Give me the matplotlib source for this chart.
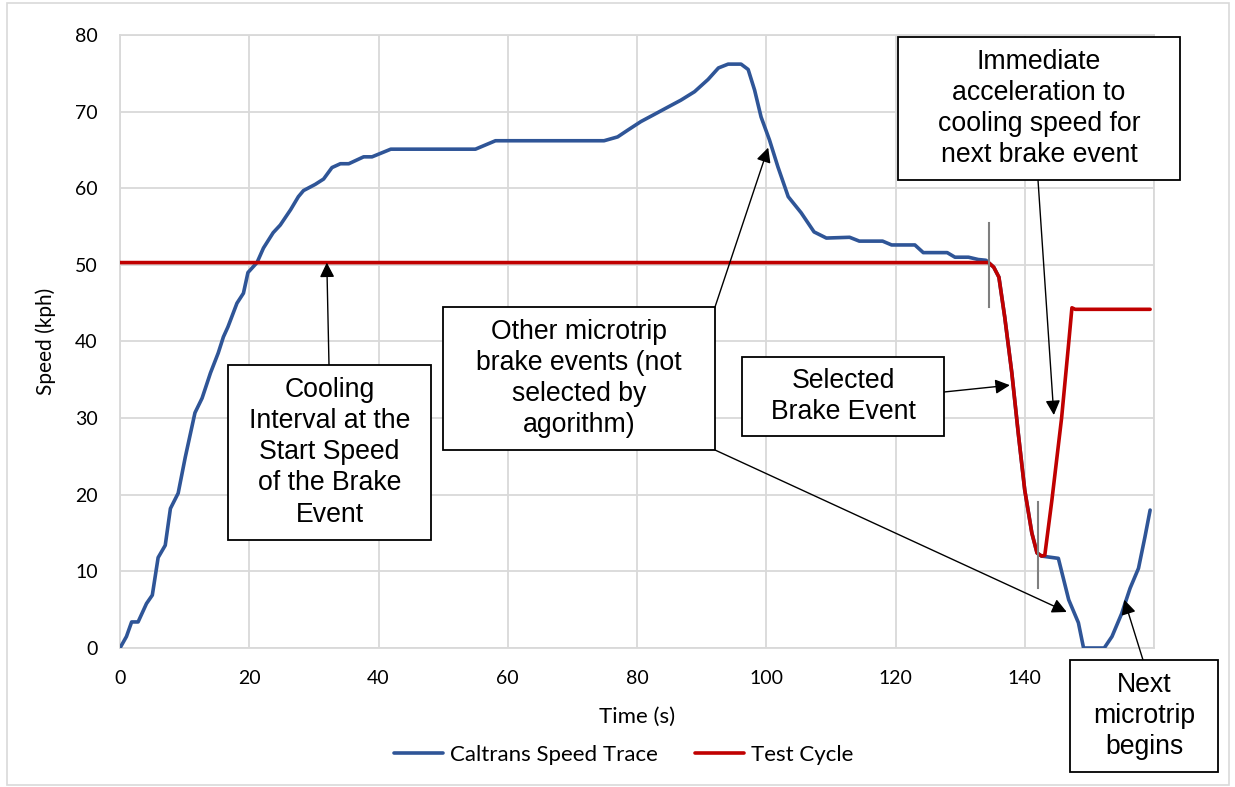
import matplotlib
matplotlib.use("Agg")
import matplotlib.pyplot as plt
from matplotlib.patches import Rectangle

# Caltrans speed trace [s], [kph]
blue_t = [0, 1, 1.8, 2.8, 4.1, 5, 5.9, 7, 7.8, 9, 10.1, 11.6, 12.7, 14, 15.2, 16,
          16.7, 18.1, 19.1, 19.8, 21.2, 22.2, 23.7, 24.8, 26.4, 27.6, 28.4, 30.2,
          31.5, 32.8, 34.1, 35.4, 37.7, 39, 41.9, 55, 58.1, 74.9, 77, 78.6, 80.6,
          82.6, 84.8, 86.8, 88.9, 91, 92.6, 94.1, 96.1, 97.2, 98.2, 99.2, 100.5,
          101.8, 103.4, 105.4, 107.4, 109.3, 112.9, 114.4, 118, 119.4, 123, 124.3,
          128, 129.2, 131.3, 132.8, 134, 135.2, 136, 136.9, 138, 139, 140, 141.1,
          141.9, 142.6, 145.2, 146.8, 148.3, 149.1, 152.3, 153.5, 155, 156.3,
          157.6, 158.6, 159.4]
blue_v = [0, 1.5, 3.4, 3.4, 5.8, 6.9, 11.8, 13.4, 18.2, 20.2, 24.9, 30.7, 32.6,
          35.9, 38.5, 40.6, 41.9, 45, 46.3, 49, 50.3, 52.2, 54.2, 55.2, 57.2, 58.9,
          59.7, 60.5, 61.2, 62.7, 63.2, 63.2, 64.1, 64.1, 65.1, 65.1, 66.2, 66.2,
          66.7, 67.6, 68.7, 69.6, 70.6, 71.5, 72.6, 74.2, 75.7, 76.2, 76.2, 75.5,
          72.8, 69.3, 66.3, 62.8, 58.9, 56.8, 54.3, 53.5, 53.6, 53.1, 53.1, 52.6,
          52.6, 51.6, 51.6, 51.0, 51.0, 50.7, 50.6, 49.7, 48.4, 43.2, 35.9, 28,
          20.6, 15, 12.4, 12, 11.7, 6.3, 3.3, 0, 0, 1.5, 4.5, 7.8, 10.4, 14.5, 18]

# Test cycle
red_t = [0, 134.4, 135.2, 136, 136.9, 138, 139, 140, 141.1, 141.9, 142.6, 143.1,
         144.2, 145.7, 146.8, 147.3, 147.8, 159.4]
red_v = [50.3, 50.3, 49.7, 48.4, 43.2, 35.9, 28, 20.6, 15, 12.4, 12, 12.1,
         19.3, 30, 39.8, 44.4, 44.2, 44.2]

# grey markers at start / end of the selected brake event
marker_t = [134.4, 142]
marker_lo = [44.5, 7.8]
marker_hi = [55.5, 19]

x_ticks = [0, 20, 40, 60, 80, 100, 120, 140, 160]
# the 160 label sits under the "Next microtrip" box in the original
x_labels = ["0", "20", "40", "60", "80", "100", "120", "140", ""]

W, H = 1235, 787
fig = plt.figure(figsize=(W / 100, H / 100), dpi=100)
ax = fig.add_axes([120 / W, 1 - 648 / H, (1154 - 120) / W, (648 - 35) / H])

grid_c = "#d9d9d9"
ax.plot(blue_t, blue_v, color="#2f5597", lw=2.6, solid_joinstyle="round",
        solid_capstyle="round", label="Caltrans Speed Trace", zorder=3)
ax.plot(red_t, red_v, color="#c00000", lw=2.6, solid_joinstyle="round",
        solid_capstyle="round", label="Test Cycle", zorder=4)
for t, lo, hi in zip(marker_t, marker_lo, marker_hi):
    ax.plot([t, t], [lo, hi], color="#7f7f7f", lw=1.5, zorder=5)

ax.set_xlim(0, 160)
ax.set_ylim(0, 80)
ax.set_xticks(x_ticks)
ax.set_xticklabels(x_labels)
ax.set_yticks(range(0, 81, 10))
ax.grid(True, color=grid_c, lw=1.3)
ax.set_axisbelow(True)
for s in ax.spines.values():
    s.set_color(grid_c)
    s.set_linewidth(1.3)
ax.tick_params(length=0, labelsize=14, pad=16)
for lab in ax.get_xticklabels() + ax.get_yticklabels():
    lab.set_family("Lato")

ax.set_xlabel("Time (s)", fontsize=16, family="Lato", labelpad=14)
ax.set_ylabel("Speed (kph)", fontsize=15, family="Lato", labelpad=14)

leg = ax.legend(loc="upper center", bbox_to_anchor=(0.487, -0.125), ncol=2,
                frameon=False, prop={"family": "Lato", "size": 16},
                handlelength=2.2, handletextpad=0.3, columnspacing=1.7)

# chart area border
fig.patches.append(Rectangle((7 / W, 2 / H), (1229 - 7) / W, (784 - 2) / H,
                             transform=fig.transFigure, fill=False,
                             edgecolor=grid_c, lw=1.2))


def callout(x0, y0, x1, y1, text):
    fig.patches.append(Rectangle((x0 / W, 1 - y1 / H), (x1 - x0) / W, (y1 - y0) / H,
                                 transform=fig.transFigure, facecolor="white",
                                 edgecolor="black", lw=1.3, zorder=10))
    fig.text((x0 + x1) / 2 / W, 1 - (y0 + y1) / 2 / H, text, ha="center",
             va="center", fontsize=19.2, family="Liberation Sans",
             linespacing=1.25, zorder=11)


def arrow(tip, start):
    ax.annotate("", xy=tip, xycoords="data",
                xytext=(start[0], H - start[1]), textcoords="figure pixels",
                arrowprops=dict(arrowstyle="-|>", color="black", lw=1.0,
                                mutation_scale=22, shrinkA=0, shrinkB=0),
                zorder=12, annotation_clip=False)


callout(228, 365, 431, 540, "Cooling\nInterval at the\nStart Speed\nof the Brake\nEvent")
arrow((32.0, 50.3), (329, 365))

callout(443, 307, 715, 450, "Other microtrip\nbrake events (not\nselected by\nagorithm)")
arrow((100.3, 65.3), (715, 307))
arrow((146.5, 4.7), (715, 450))

callout(742, 357, 944, 436, "Selected\nBrake Event")
arrow((137.7, 34.3), (944, 392))

callout(898, 37, 1180, 180, "Immediate\nacceleration to\ncooling speed for\nnext brake event")
arrow((144.5, 30.4), (1038, 180))

callout(1070, 660, 1218, 772, "Next\nmicrotrip\nbegins")
arrow((155.4, 6.3), (1143, 660))

fig.savefig("out.png", dpi=100)
